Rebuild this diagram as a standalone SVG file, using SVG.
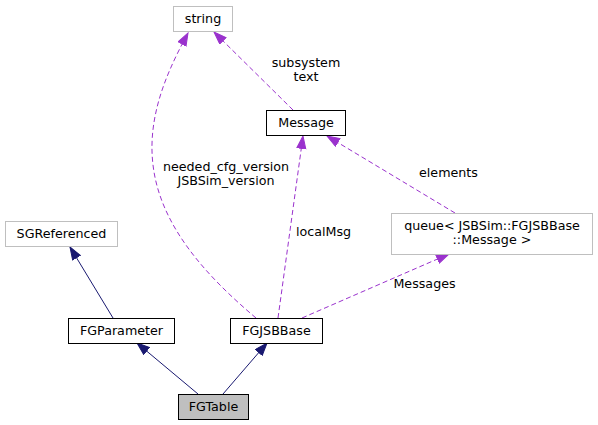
<svg xmlns="http://www.w3.org/2000/svg" width="598" height="425" viewBox="0 0 598 425">
<style>
text{font-family:"DejaVu Sans",Verdana,sans-serif;font-size:12.7px;fill:#000;text-anchor:middle}
.n{fill:#fff;stroke:#000;stroke-width:1}
.g{fill:#fff;stroke:#bfbfbf;stroke-width:1}
.cur{fill:#bfbfbf;stroke:#000;stroke-width:1}
.inh{fill:none;stroke:#191970;stroke-width:1;marker-end:url(#ah)}
.use{fill:none;stroke:#9a32cd;stroke-width:1;stroke-dasharray:5,3;marker-end:url(#au)}
</style>
<defs>
<marker id="ah" markerUnits="userSpaceOnUse" markerWidth="15" markerHeight="12" refX="13" refY="5" orient="auto"><path d="M0.5,0.5 L13,5 L0.5,9.5 z" fill="#191970" stroke="#191970"/></marker>
<marker id="au" markerUnits="userSpaceOnUse" markerWidth="15" markerHeight="12" refX="13" refY="5" orient="auto"><path d="M0.5,0.5 L13,5 L0.5,9.5 z" fill="#9a32cd" stroke="#9a32cd"/></marker>
</defs>
<rect width="598" height="425" fill="#fff"/>
<g id="connectors">
<path class="inh" d="M113,318 L70,247"/>
<path class="inh" d="M198,394 L137,343"/>
<path class="inh" d="M223,394 L267,343"/>
<path class="use" d="M256,318 C205,275 160,225 153,165 C147,115 168,70 188,33"/>
<path class="use" d="M293,110 L214,32"/>
<path class="use" d="M278,318 L303,136"/>
<path class="use" d="M455,213 L327,136"/>
<path class="use" d="M302,318 L449,254"/>
<text x="306" y="67">subsystem</text>
<text x="306" y="81">text</text>
<text x="226" y="171">needed_cfg_version</text>
<text x="226" y="185">JSBSim_version</text>
<text x="323.5" y="236">localMsg</text>
<text x="448.5" y="177">elements</text>
<text x="424.5" y="288">Messages</text>
</g>
<g id="string"><rect class="g" x="173.5" y="6.5" width="59" height="25"/><text x="203" y="23">string</text></g>
<g id="Message"><rect class="n" x="266.5" y="110.5" width="79" height="25"/><text x="306" y="127">Message</text></g>
<g id="SGReferenced"><rect class="g" x="5.5" y="221.5" width="112" height="25"/><text x="61.5" y="238">SGReferenced</text></g>
<g id="queue"><rect class="g" x="391.5" y="213.5" width="201" height="41"/><text x="492" y="230">queue&lt; JSBSim::FGJSBBase</text><text x="492" y="244">::Message &gt;</text></g>
<g id="FGParameter"><rect class="n" x="68.5" y="318.5" width="106" height="25"/><text x="121.5" y="335">FGParameter</text></g>
<g id="FGJSBBase"><rect class="n" x="230.5" y="318.5" width="92" height="25"/><text x="276.5" y="335">FGJSBBase</text></g>
<g id="FGTable"><rect class="cur" x="178.5" y="394.5" width="70" height="25"/><text x="213.5" y="411">FGTable</text></g>
</svg>
